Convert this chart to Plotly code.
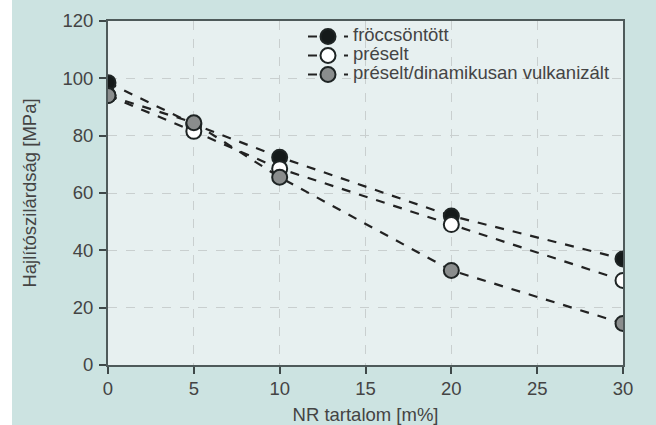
import plotly.graph_objects as go

nr = [0, 5, 10, 20, 30]
froccs = [98.5, 84, 72.5, 52, 37]
preselt = [94, 81.5, 68.5, 49, 29.5]
dinam = [94, 84.5, 65.5, 33, 14.5]
names = ["fröccsöntött", "préselt", "préselt/dinamikusan vulkanizált"]
fills = ["#151a1a", "#ffffff", "#8a8d8d"]

FS = 18.5
fig = go.Figure()
for name, vals, col in zip(names, [froccs, preselt, dinam], fills):
    fig.add_trace(go.Scatter(
        x=nr, y=vals, mode="lines+markers",
        name="<span style='font-size:%spx'>%s</span>" % (FS, name),
        line=dict(color="#222", width=2.2, dash="dash"),
        marker=dict(size=15, color=col, line=dict(color="#1e2424", width=2)),
    ))

W, H = 656, 425
L, R, T, B = 108, 33, 21, 60
pw, ph = W - L - R, H - T - B
def px(p): return (p - L) / pw
def py(q): return (H - B - q) / ph

# white strip on the far left of the page
fig.add_shape(type="rect", xref="paper", yref="paper", layer="below",
              x0=px(-5), x1=px(12), y0=py(H + 5), y1=py(-5),
              fillcolor="#ffffff", line=dict(width=0))

axis_common = dict(
    showline=True, linecolor="#4e5a5a", linewidth=2, mirror=True,
    ticks="outside", ticklen=7, tickwidth=2, tickcolor="#3e4848",
    showgrid=True, gridcolor="#c9cfcf", griddash="dash", gridwidth=1,
    zeroline=False, tickfont=dict(size=FS, color="#444"),
    title_font=dict(size=FS, color="#444"), automargin=False,
)
fig.update_xaxes(range=[0, 30], tickvals=[0, 5, 10, 15, 20, 25, 30],
                 ticklabelstandoff=-1,
                 title_text="NR tartalom [m%]", title_standoff=12, **axis_common)
fig.update_yaxes(range=[0, 120], tickvals=[0, 20, 40, 60, 80, 100, 120],
                 ticklabelstandoff=2,
                 title_text="Hajlítószilárdság [MPa]", title_standoff=21, **axis_common)

fig.update_layout(
    width=W, height=H,
    margin=dict(l=L, r=R, t=T, b=B, pad=0, autoexpand=False),
    paper_bgcolor="#cce3e1", plot_bgcolor="#e7f0f0",
    font=dict(family="Liberation Sans, Arial, sans-serif", color="#444"),
    legend=dict(x=px(303), y=py(22), xanchor="left", yanchor="top",
                bgcolor="rgba(0,0,0,0)", font=dict(size=12, color="#444"),
                tracegroupgap=0, itemwidth=40),
    showlegend=True,
)
fig.write_html("out.html", config={"displayModeBar": False},
               post_script="document.body.style.margin='0';")
